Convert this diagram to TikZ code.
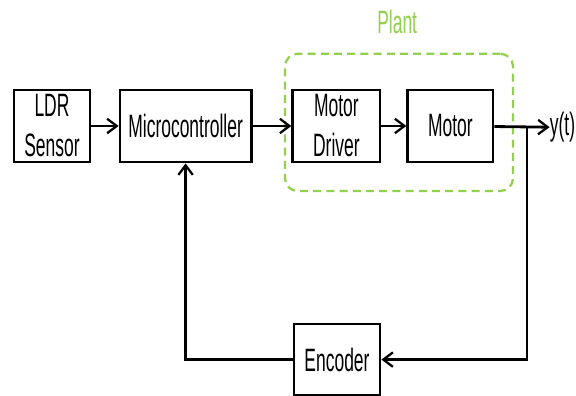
\documentclass[tikz,border=0pt]{standalone}
\usepackage{fontspec}
\setmainfont{Liberation Sans}[FakeStretch=0.54]
\usetikzlibrary{arrows.meta,positioning}
\definecolor{ink}{HTML}{000000}
\definecolor{plantc}{HTML}{92D050}

\begin{document}
\begin{tikzpicture}[
  font=\fontsize{23}{28.5}\selectfont,
  >={Straight Barb[length=2.4mm,width=3.6mm,line width=1.6pt]},
  blk/.style={draw=ink,line width=2pt,fill=white,align=center,inner sep=0pt,minimum height=1.8cm},
  plantbox/.style={draw=plantc,line width=1.6pt,rounded corners=9pt,dash pattern=on 2mm off 1.3mm},
  flowarrow/.style={->,line width=2pt,draw=ink},
]
\useasboundingbox (0,0) rectangle (14.4,9.9);

% ===================== FORWARD PATH =====================
\node[blk,minimum width=1.9cm] (ldr) at (1.30,6.75) {LDR\\Sensor};
\node[blk,minimum width=3.28cm] (mcu) at (4.64,6.75) {Microcontroller};
\node[blk,minimum width=2.18cm] (drv) at (8.41,6.75) {Motor\\Driver};
\node[blk,minimum width=2.13cm] (mot) at (11.26,6.75) {Motor};
\node[anchor=west,inner sep=0pt] (yt) at (13.74,6.72) {y(t)};

% plant frame
\node[plantbox,minimum width=5.7cm,minimum height=3.43cm] (plant) at (9.975,6.84) {};
\node[text=plantc] (plab) at (9.93,9.35) {Plant};

\draw[flowarrow] (ldr) -- (mcu);
\draw[flowarrow] (mcu) -- (drv);
\draw[flowarrow] (drv) -- (mot);
\draw[flowarrow] (mot) -- (yt.west);

% ===================== FEEDBACK PATH =====================
\node[blk,minimum width=2.15cm,minimum height=1.78cm] (enc) at (8.425,0.91) {Encoder};
\coordinate (tap) at (13.175,6.75);
\draw[flowarrow] (tap) |- (enc.east);
\draw[flowarrow] (enc.west) -| (mcu.south);

\end{tikzpicture}
\end{document}
